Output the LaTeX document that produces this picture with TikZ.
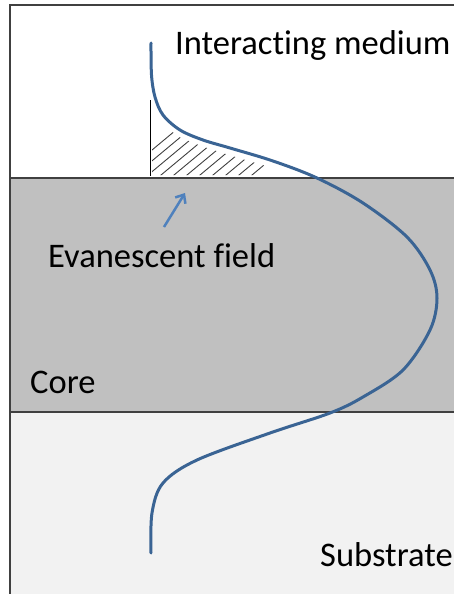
\documentclass[tikz,border=0pt]{standalone}
\usepackage{fontspec}
\setmainfont{Carlito}[Ligatures={NoCommon}]
\usetikzlibrary{arrows.meta}
\definecolor{corefill}{HTML}{C0C0C0}
\definecolor{subfill}{HTML}{F2F2F2}
\definecolor{framecol}{HTML}{404040}
\definecolor{curvecol}{HTML}{3A6494}
\definecolor{arrowcol}{HTML}{4F81BD}
\tikzset{
  lbl/.style={font=\fontsize{34.5}{40}\selectfont, inner sep=0pt, anchor=base west, text=black},
  layerline/.style={draw=framecol, line width=1.8pt},
  framel/.style={draw=framecol, line width=1.5pt},
  field/.style={draw=curvecol, line width=3pt, line cap=round},
  hatchl/.style={draw=framecol, line width=0.9pt},
  pointer/.style={draw=arrowcol, line width=2.5pt, -{Straight Barb[length=7pt, width=12pt]}}
}
\begin{document}
\begin{tikzpicture}[x=1pt, y=-1pt]
\useasboundingbox (0,0) rectangle (454,594);
\fill[white] (0,0) rectangle (454,594);
\fill[corefill] (10,178) rectangle (454,412);
\fill[subfill] (10,412) rectangle (454,594);
\draw[layerline] (10,178) -- (454,178);
\draw[layerline] (10,412) -- (454,412);
\draw[framel] (10,594) -- (10,5) -- (454,5);
% hatch
\begin{scope}
\clip (152,100) -- (152,175) -- (262,175) -- (266,166) -- (232,156) -- (204,147) -- (181,138) -- (164,126) -- (156,110) -- cycle;
\foreach \i in {110,123,...,280} {
  \draw[hatchl] (\i,185) -- (\i+120,85);
}
\end{scope}
\draw[draw=black, line width=1.1pt] (150.5,100) -- (150.5,176);
% field profile
\draw[field] plot[smooth, tension=0.55] coordinates {
 (151,43) (151.5,75) (155,97) (163,115) (180,130) (203,140) (230,148) (273,161)
 (317,178) (363,203) (407,237) (430,270) (437,298) (430,330) (403,370) (363,397)
 (330,413) (270,433) (197,460) (163,483) (152,513) (151,553)};
% labels
\node[lbl] (im) at (175,55) {Interacting medium};
\node[lbl] (ef) at (48,267) {Evanescent field};
\node[lbl] (co) at (30,393) {Core};
\node[lbl] (su) at (320,566) {Substrate};
\coordinate (as) at (164,227);
\coordinate (ae) at (185,193);
\draw[pointer] (as) -- (ae);
\end{tikzpicture}
\end{document}
